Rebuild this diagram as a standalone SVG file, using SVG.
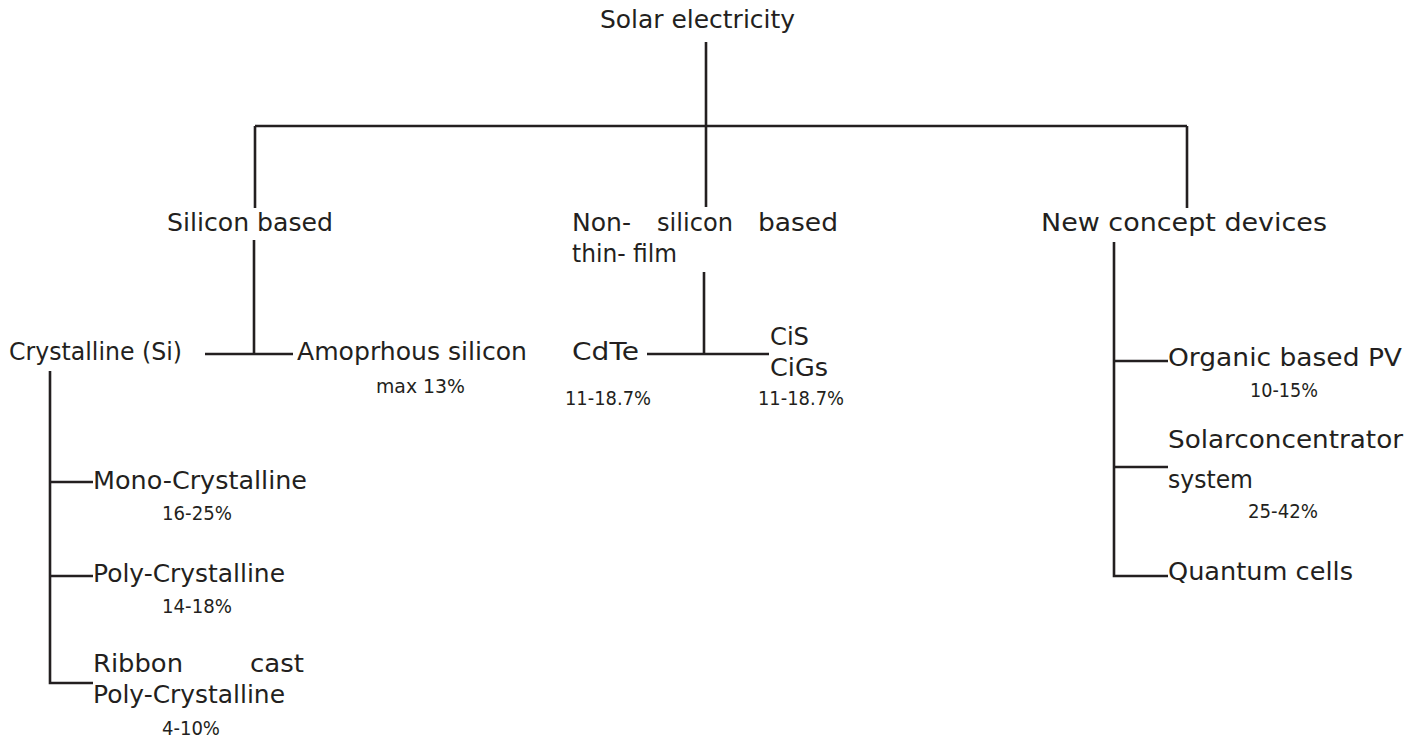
<svg xmlns="http://www.w3.org/2000/svg" width="1421" height="742" viewBox="0 0 1421 742">
<style>
.t{font-family:"DejaVu Sans","Liberation Sans",sans-serif;font-size:24px;fill:#231f20}
.s{font-family:"DejaVu Sans","Liberation Sans",sans-serif;font-size:19px;fill:#231f20}
.c path{stroke:#231f20;stroke-width:2.6;fill:none}
</style>
<rect width="1421" height="742" fill="#fff"/>
<g id="connectors" class="c">
<path d="M706 42V207"/>
<path d="M255 126H1187"/>
<path d="M255 126V208"/>
<path d="M1187 126V208"/>
<path d="M254 240V354"/>
<path d="M205 354H293"/>
<path d="M50 371V683H93"/>
<path d="M50 482H93"/>
<path d="M50 576H93"/>
<path d="M704 272V354"/>
<path d="M647 354H769"/>
<path d="M1114 242V576H1168"/>
<path d="M1114 361H1168"/>
<path d="M1114 467H1168"/>
</g>
<g id="n-solar"><text class="t" x="600" y="28" textLength="195" lengthAdjust="spacingAndGlyphs">Solar electricity</text></g>
<g id="n-silicon"><text class="t" x="167" y="231" textLength="166" lengthAdjust="spacingAndGlyphs">Silicon based</text></g>
<g id="n-nonsilicon">
<text class="t" x="572" y="231" textLength="59" lengthAdjust="spacingAndGlyphs">Non-</text>
<text class="t" x="657" y="231" textLength="76" lengthAdjust="spacingAndGlyphs">silicon</text>
<text class="t" x="758" y="231" textLength="80" lengthAdjust="spacingAndGlyphs">based</text>
<text class="t" x="572" y="262" textLength="105" lengthAdjust="spacingAndGlyphs">thin- film</text>
</g>
<g id="n-new"><text class="t" x="1041" y="231" textLength="286" lengthAdjust="spacingAndGlyphs">New concept devices</text></g>
<g id="n-crystalline"><text class="t" x="9" y="360" textLength="173" lengthAdjust="spacingAndGlyphs">Crystalline (Si)</text></g>
<g id="n-amorphous">
<text class="t" x="297" y="360" textLength="230" lengthAdjust="spacingAndGlyphs">Amoprhous silicon</text>
<text class="s" x="376" y="393" textLength="89" lengthAdjust="spacingAndGlyphs">max 13%</text>
</g>
<g id="n-cdte">
<text class="t" x="572" y="360" textLength="67" lengthAdjust="spacingAndGlyphs">CdTe</text>
<text class="s" x="565" y="405" textLength="86" lengthAdjust="spacingAndGlyphs">11-18.7%</text>
</g>
<g id="n-cis">
<text class="t" x="770" y="345" textLength="39" lengthAdjust="spacingAndGlyphs">CiS</text>
<text class="t" x="770" y="376" textLength="58" lengthAdjust="spacingAndGlyphs">CiGs</text>
<text class="s" x="758" y="405" textLength="86" lengthAdjust="spacingAndGlyphs">11-18.7%</text>
</g>
<g id="n-mono">
<text class="t" x="93" y="489" textLength="214" lengthAdjust="spacingAndGlyphs">Mono-Crystalline</text>
<text class="s" x="162" y="520" textLength="70" lengthAdjust="spacingAndGlyphs">16-25%</text>
</g>
<g id="n-poly">
<text class="t" x="93" y="582" textLength="192" lengthAdjust="spacingAndGlyphs">Poly-Crystalline</text>
<text class="s" x="162" y="613" textLength="70" lengthAdjust="spacingAndGlyphs">14-18%</text>
</g>
<g id="n-ribbon">
<text class="t" x="93" y="672" textLength="90" lengthAdjust="spacingAndGlyphs">Ribbon</text>
<text class="t" x="250" y="672" textLength="54" lengthAdjust="spacingAndGlyphs">cast</text>
<text class="t" x="93" y="703" textLength="192" lengthAdjust="spacingAndGlyphs">Poly-Crystalline</text>
<text class="s" x="162" y="735" textLength="58" lengthAdjust="spacingAndGlyphs">4-10%</text>
</g>
<g id="n-organic">
<text class="t" x="1168" y="366" textLength="234" lengthAdjust="spacingAndGlyphs">Organic based PV</text>
<text class="s" x="1250" y="397" textLength="68" lengthAdjust="spacingAndGlyphs">10-15%</text>
</g>
<g id="n-concentrator">
<text class="t" x="1168" y="448" textLength="235" lengthAdjust="spacingAndGlyphs">Solarconcentrator</text>
<text class="t" x="1168" y="488" textLength="85" lengthAdjust="spacingAndGlyphs">system</text>
<text class="s" x="1248" y="518" textLength="70" lengthAdjust="spacingAndGlyphs">25-42%</text>
</g>
<g id="n-quantum"><text class="t" x="1168" y="580" textLength="185" lengthAdjust="spacingAndGlyphs">Quantum cells</text></g>
</svg>
